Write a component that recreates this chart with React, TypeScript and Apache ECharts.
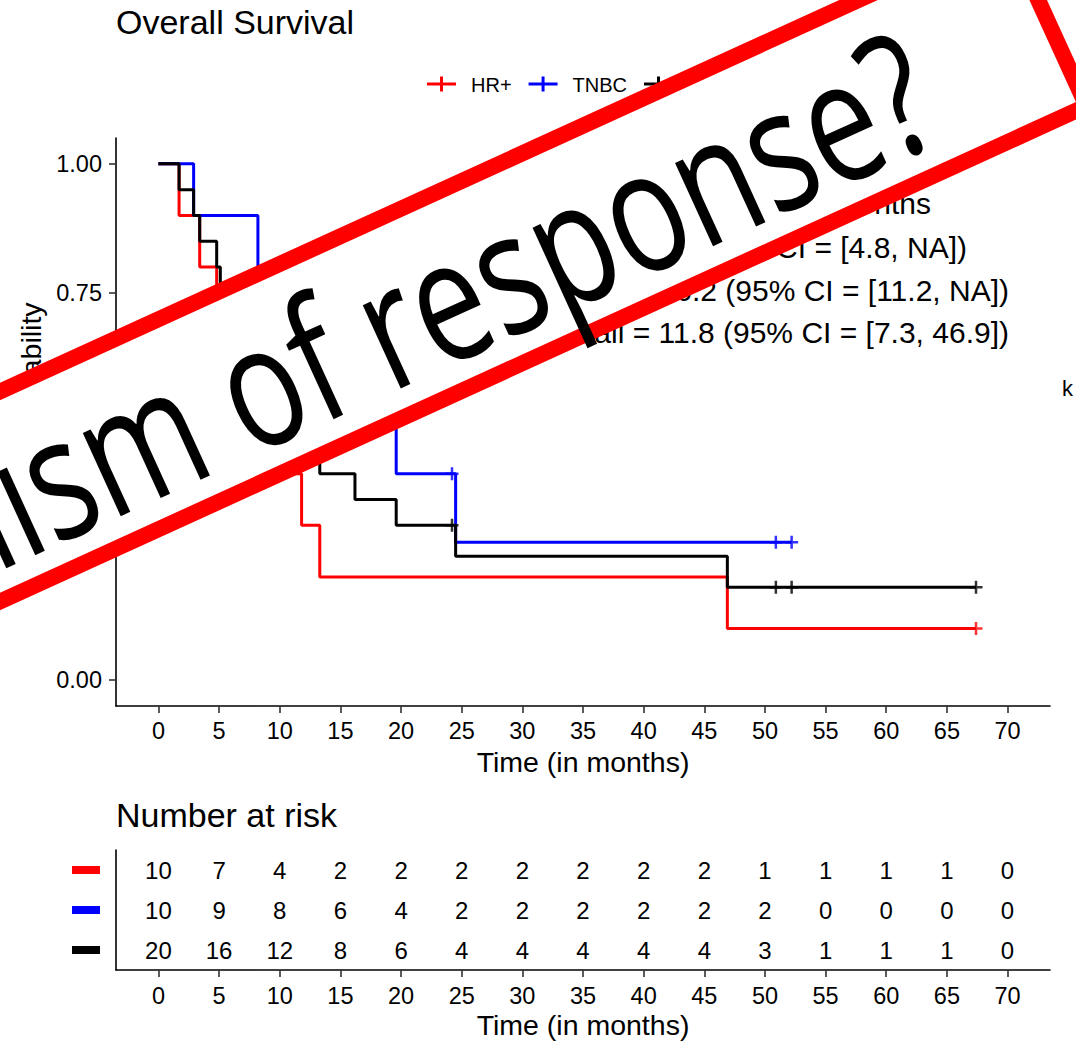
import React, { useEffect, useRef } from "react";
import * as echarts from "echarts";

const FONT = '"Liberation Sans", Arial, Helvetica, sans-serif';

// Groups and their colours
const groups = ["HR+", "TNBC", "Overall"];
const groupColors = ["#ff0000", "#0000ff", "#000000"];

// Kaplan–Meier steps: [time in months, survival probability after that time]
const survHR = [
  [0, 1], [1.7, 0.9], [3.4, 0.8], [4.8, 0.7], [5.1, 0.6], [7.3, 0.5], [9.1, 0.4],
  [11.8, 0.3], [13.3, 0.2], [46.9, 0.1], [67.4, 0.1],
];
const survTNBC = [
  [0, 1], [2.9, 0.9], [8.2, 0.8], [11.2, 0.7], [12.6, 0.6], [16.2, 0.5], [19.6, 0.4],
  [24.5, 0.267], [52.2, 0.267],
];
const survAll = [
  [0, 1], [1.7, 0.95], [2.9, 0.9], [3.4, 0.85], [4.8, 0.8], [5.1, 0.75], [7.3, 0.7],
  [8.2, 0.65], [9.1, 0.6], [11.2, 0.55], [11.8, 0.5], [12.6, 0.45], [13.3, 0.4],
  [16.2, 0.35], [19.6, 0.3], [24.5, 0.24], [46.9, 0.18], [67.4, 0.18],
];

// Censored observations
const censorHR = [[67.4, 0.1]];
const censorTNBC = [[24.2, 0.4], [50.9, 0.267], [52.2, 0.267]];
const censorAll = [[24.2, 0.3], [50.9, 0.18], [52.2, 0.18], [67.4, 0.18]];

// Axis ticks
const timeTicks = [0, 5, 10, 15, 20, 25, 30, 35, 40, 45, 50, 55, 60, 65, 70];
const survTicks = [0, 0.25, 0.5, 0.75, 1];

// Number at risk at each time tick
const riskHR = [10, 7, 4, 2, 2, 2, 2, 2, 2, 2, 1, 1, 1, 1, 0];
const riskTNBC = [10, 9, 8, 6, 4, 2, 2, 2, 2, 2, 2, 0, 0, 0, 0];
const riskAll = [20, 16, 12, 8, 6, 4, 4, 4, 4, 4, 3, 1, 1, 1, 0];

// Median survival annotation
const medianLines = [
  "Median survival in months",
  "HR+ = 7.3 (95% CI = [4.8, NA])",
  "TNBC = 16.2 (95% CI = [11.2, NA])",
  "Overall = 11.8 (95% CI = [7.3, 46.9])",
];

const bannerText = "Mechanism of response?";

const survSeries = [survHR, survTNBC, survAll];
const censorSeries = [censorHR, censorTNBC, censorAll];
const riskSeries = [riskHR, riskTNBC, riskAll];

const PLUS = "path://M5,0L5,10M0,5L10,5";

function textWidth(text: string, size: number, family: string) {
  const ctx = document.createElement("canvas").getContext("2d");
  if (!ctx) return text.length * size * 0.55;
  ctx.font = `${size}px ${family}`;
  return ctx.measureText(text).width;
}

function timeAxis(gridIndex: number, labelMargin: number) {
  return {
    type: "value",
    gridIndex,
    min: -3.5,
    max: 73.5,
    axisLine: { show: true, onZero: false, lineStyle: { color: "#000", width: 1.6 } },
    axisTick: { show: true, length: 7, customValues: timeTicks, lineStyle: { color: "#333", width: 1.6 } },
    axisLabel: { customValues: timeTicks, margin: labelMargin, color: "#000", fontSize: 23.5, fontFamily: FONT },
    splitLine: { show: false },
    name: "Time (in months)",
    nameLocation: "middle",
    nameGap: 40,
    nameTextStyle: { fontSize: 28.5, color: "#000", fontFamily: FONT },
  };
}

function buildLegend() {
  const els: any[] = [];
  let x = 427;
  const y = 84;
  groups.forEach((g, i) => {
    const c = groupColors[i];
    els.push({ type: "line", shape: { x1: x, y1: y, x2: x + 29, y2: y }, style: { stroke: c, lineWidth: 3 } });
    els.push({ type: "line", shape: { x1: x + 14.5, y1: y - 7.5, x2: x + 14.5, y2: y + 7.5 }, style: { stroke: c, lineWidth: 3 } });
    els.push({
      type: "text", x: x + 44, y: y + 1,
      style: { text: g, fill: "#000", fontSize: 20, fontFamily: FONT, textAlign: "left", textVerticalAlign: "middle" },
    });
    x += 44 + textWidth(g, 20, FONT) + 17;
  });
  return els;
}

function buildMedianText() {
  const rightEdges = [931, 967, 1009, 1009];
  const centers = [203.6, 247.6, 290.6, 332.6];
  return medianLines.map((t, i) => ({
    type: "text", x: rightEdges[i], y: centers[i],
    style: { text: t, fill: "#000", fontSize: 30, fontFamily: FONT, textAlign: "right", textVerticalAlign: "middle" },
  }));
}

function buildBanner() {
  const angle = (24.5 * Math.PI) / 180;
  return {
    type: "group",
    x: 1045,
    y: 15,
    rotation: angle,
    z: 100,
    children: [
      {
        type: "rect", z: 100,
        shape: { x: -1500, y: -91, width: 1500, height: 191 },
        style: { fill: "#ffffff", stroke: "#ff0000", lineWidth: 16 },
      },
      {
        type: "text", z: 101, x: -140, y: 6, scaleX: 0.86, scaleY: 1.14,
        style: {
          text: bannerText, fill: "#000", fontSize: 150, fontFamily: '"Open Sans", sans-serif',
          textAlign: "right", textVerticalAlign: "middle",
        },
      },
    ],
  };
}

export default function App() {
  const ref = useRef<HTMLDivElement>(null);

  useEffect(() => {
    if (!ref.current) return;
    const chart = echarts.init(ref.current, null, { renderer: "svg" });

    const series: any[] = [];
    survSeries.forEach((d, i) => {
      series.push({
        type: "line", name: groups[i], xAxisIndex: 0, yAxisIndex: 0, data: d,
        step: "end", symbol: "none", showSymbol: false, silent: true,
        lineStyle: { color: groupColors[i], width: 3 }, z: 2 + i,
      });
    });
    censorSeries.forEach((d, i) => {
      series.push({
        type: "scatter", xAxisIndex: 0, yAxisIndex: 0, data: d, symbol: PLUS, symbolSize: 13, silent: true,
        itemStyle: { color: "transparent", borderColor: groupColors[i], borderWidth: 2.5 }, z: 6 + i,
      });
    });
    // Number-at-risk table: one text per (time, group) cell
    riskSeries.forEach((d, i) => {
      series.push({
        type: "custom", xAxisIndex: 1, yAxisIndex: 1, silent: true,
        data: timeTicks.map((t, j) => [t, i, d[j]]),
        encode: { x: 0, y: 1 },
        renderItem: (params: any, api: any) => {
          const pt = api.coord([api.value(0), groups[api.value(1)]]);
          return {
            type: "text", x: pt[0], y: pt[1],
            style: {
              text: String(api.value(2)), fill: "#000", fontSize: 24, fontFamily: FONT,
              textAlign: "center", textVerticalAlign: "middle",
            },
          };
        },
      });
    });

    const rich: any = {};
    groupColors.forEach((c, i) => {
      rich["g" + i] = { backgroundColor: c, width: 28, height: 8 };
    });

    chart.setOption({
      animation: false,
      backgroundColor: "#ffffff",
      title: {
        text: "Overall Survival", left: 116, top: 5, padding: 0,
        textStyle: { fontSize: 34, fontWeight: "normal", color: "#000", fontFamily: FONT },
      },
      grid: [
        { left: 116, top: 138, width: 934, height: 568 },
        { left: 116, top: 850, width: 934, height: 120 },
      ],
      xAxis: [timeAxis(0, 12.5), timeAxis(1, 13.5)],
      yAxis: [
        {
          type: "value", gridIndex: 0, min: -0.05, max: 1.05,
          axisLine: { show: true, onZero: false, lineStyle: { color: "#000", width: 1.6 } },
          axisTick: { show: true, length: 7, customValues: survTicks, lineStyle: { color: "#333", width: 1.6 } },
          axisLabel: {
            customValues: survTicks, margin: 14, color: "#000", fontSize: 23.5, fontFamily: FONT,
            formatter: (v: number) => v.toFixed(2),
          },
          splitLine: { show: false },
          name: "Survival probability", nameLocation: "middle", nameGap: 68, nameRotate: 90,
          nameTextStyle: { fontSize: 28.5, color: "#000", fontFamily: FONT },
        },
        {
          type: "category", gridIndex: 1, data: groups, inverse: true,
          axisLine: { show: true, onZero: false, lineStyle: { color: "#000", width: 1.6 } },
          axisTick: { show: false },
          axisLabel: {
            margin: 16,
            formatter: (_v: string, i: number) => `{g${i}|}`,
            rich,
          },
          splitLine: { show: false },
        },
      ],
      series,
      graphic: [
        ...buildLegend(),
        ...buildMedianText(),
        {
          type: "text", x: 116, y: 814.6,
          style: { text: "Number at risk", fill: "#000", fontSize: 34, fontFamily: FONT, textAlign: "left", textVerticalAlign: "middle" },
        },
        {
          type: "text", x: 1062, y: 388,
          style: { text: "k", fill: "#000", fontSize: 22, fontFamily: FONT, textAlign: "left", textVerticalAlign: "middle" },
        },
        buildBanner(),
      ],
    });

    return () => chart.dispose();
  }, []);

  return (
    <div
      ref={ref}
      style={{ position: "fixed", left: 0, top: 0, width: 1076, height: 1043, background: "#fff" }}
    />
  );
}
